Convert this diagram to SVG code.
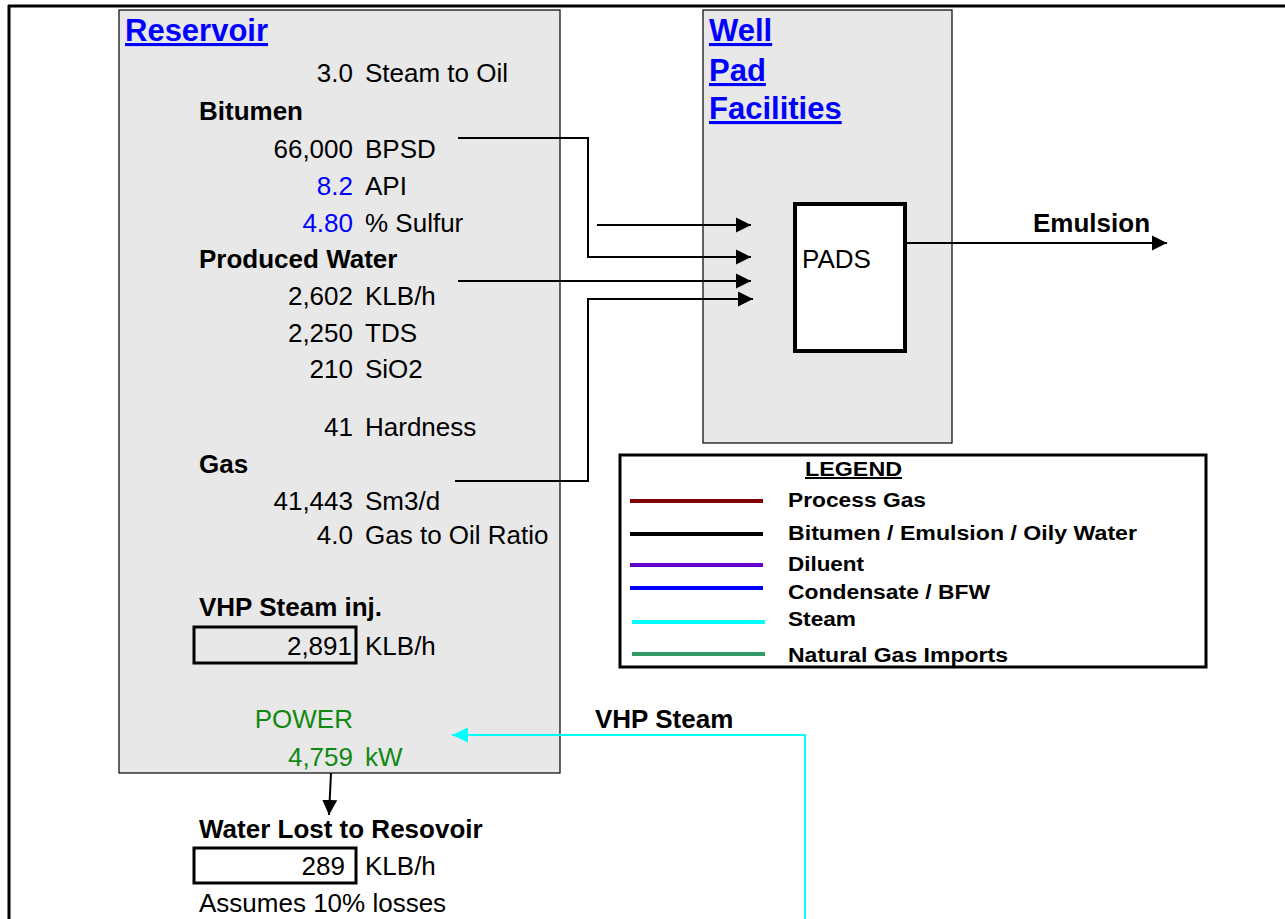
<svg xmlns="http://www.w3.org/2000/svg" width="1285" height="919" viewBox="0 0 1285 919">
<style>
text{font-family:"Liberation Sans",Arial,sans-serif;font-size:26px;fill:#000}
.b{font-weight:bold}
.t{font-weight:bold;font-size:31px;fill:#0000ff;text-decoration:underline}
.n{text-anchor:end}
.blue{fill:#0000ff}
.green{fill:#118811}
.lg{font-weight:bold;font-size:20px}
.area{fill:#e8e8e8;stroke:#000;stroke-width:1.2}
.vbox{stroke:#000;stroke-width:3}
.c{fill:none;stroke:#000;stroke-width:2}
.steam{fill:none;stroke:#00ffff;stroke-width:2}
.ll{stroke-width:4}
</style>
<defs>
<marker id="ah" markerUnits="userSpaceOnUse" markerWidth="16" markerHeight="16" viewBox="0 0 16 16" refX="15" refY="8" orient="auto"><path d="M0,0.5 L15,8 L0,15.5 Z" fill="#000"/></marker>
<marker id="ahc" markerUnits="userSpaceOnUse" markerWidth="17" markerHeight="16" viewBox="0 0 17 16" refX="16" refY="8" orient="auto"><path d="M0,0.5 L16,8 L0,15.5 Z" fill="#00ffff"/></marker>
</defs>
<rect width="1285" height="919" fill="#fff"/>
<g id="frame">
<line x1="8" y1="6" x2="1285" y2="6" stroke="#000" stroke-width="3"/>
<line x1="9" y1="5" x2="9" y2="919" stroke="#000" stroke-width="3"/>
</g>
<g id="reservoir">
<rect class="area" x="119" y="10" width="441" height="763"/>
<text class="t" x="125" y="41">Reservoir</text>
<text class="n" x="353" y="82">3.0</text><text x="365" y="82">Steam to Oil</text>
<text class="b" x="199" y="120">Bitumen</text>
<text class="n" x="353" y="158">66,000</text><text x="365" y="158">BPSD</text>
<text class="n blue" x="353" y="195">8.2</text><text x="365" y="195">API</text>
<text class="n blue" x="353" y="232">4.80</text><text x="365" y="232">% Sulfur</text>
<text class="b" x="199" y="268">Produced Water</text>
<text class="n" x="353" y="305">2,602</text><text x="365" y="305">KLB/h</text>
<text class="n" x="353" y="342">2,250</text><text x="365" y="342">TDS</text>
<text class="n" x="353" y="378">210</text><text x="365" y="378">SiO2</text>
<text class="n" x="353" y="436">41</text><text x="365" y="436">Hardness</text>
<text class="b" x="199" y="473">Gas</text>
<text class="n" x="353" y="510">41,443</text><text x="365" y="510">Sm3/d</text>
<text class="n" x="353" y="544">4.0</text><text x="365" y="544">Gas to Oil Ratio</text>
<text class="b" x="199" y="616">VHP Steam inj.</text>
<rect class="vbox" x="194" y="627" width="162" height="36" fill="none"/>
<text class="n" x="352" y="655">2,891</text><text x="365" y="655">KLB/h</text>
<text class="n green" x="353" y="728">POWER</text>
<text class="n green" x="353" y="766">4,759</text><text class="green" x="365" y="766">kW</text>
</g>
<g id="wellpad">
<rect class="area" x="703" y="10" width="249" height="433"/>
<text class="t" x="709" y="41">Well</text>
<text class="t" x="709" y="81">Pad</text>
<text class="t" x="709" y="119">Facilities</text>
</g>
<g id="pads">
<rect x="795" y="204" width="110" height="147" fill="#fff" stroke="#000" stroke-width="4"/>
<text x="802" y="268">PADS</text>
</g>
<g id="water-lost">
<text class="b" x="199" y="838">Water Lost to Resovoir</text>
<rect class="vbox" x="194" y="848" width="162" height="35" fill="#fff"/>
<text class="n" x="345" y="875">289</text><text x="365" y="875">KLB/h</text>
<text x="199" y="912">Assumes 10% losses</text>
</g>
<g id="legend">
<rect x="620" y="455" width="586" height="212" fill="#fff" stroke="#000" stroke-width="3"/>
<text class="lg" x="805" y="476" textLength="97" lengthAdjust="spacingAndGlyphs" text-decoration="underline">LEGEND</text>
<line class="ll" x1="630" y1="501" x2="763" y2="501" stroke="#800000"/>
<text class="lg" x="788" y="507" textLength="138" lengthAdjust="spacingAndGlyphs">Process Gas</text>
<line class="ll" x1="630" y1="534" x2="763" y2="534" stroke="#000"/>
<text class="lg" x="788" y="540" textLength="349" lengthAdjust="spacingAndGlyphs">Bitumen / Emulsion / Oily Water</text>
<line class="ll" x1="630" y1="565" x2="763" y2="565" stroke="#6600cc"/>
<text class="lg" x="788" y="571" textLength="76" lengthAdjust="spacingAndGlyphs">Diluent</text>
<line class="ll" x1="630" y1="588" x2="763" y2="588" stroke="#0000ff"/>
<text class="lg" x="788" y="599" textLength="202" lengthAdjust="spacingAndGlyphs">Condensate / BFW</text>
<line class="ll" x1="632" y1="622" x2="765" y2="622" stroke="#00ffff"/>
<text class="lg" x="788" y="626" textLength="68" lengthAdjust="spacingAndGlyphs">Steam</text>
<line class="ll" x1="632" y1="654" x2="765" y2="654" stroke="#339966"/>
<text class="lg" x="788" y="662" textLength="220" lengthAdjust="spacingAndGlyphs">Natural Gas Imports</text>
</g>
<g id="connectors">
<path class="c" d="M458,138 H588 V257 H751" marker-end="url(#ah)"/>
<path class="c" d="M597,225 H751" marker-end="url(#ah)"/>
<path class="c" d="M458,281 H751" marker-end="url(#ah)"/>
<path class="c" d="M455,481 H588 V299 H753" marker-end="url(#ah)"/>
<path class="c" d="M907,243 H1167" marker-end="url(#ah)"/>
<path class="c" d="M331,773 L329,815" marker-end="url(#ah)"/>
<path class="steam" d="M805,919 V735 H452" marker-end="url(#ahc)"/>
</g>
<g id="labels">
<text class="b" x="1033" y="232">Emulsion</text>
<text class="b" x="595" y="728">VHP Steam</text>
</g>
</svg>
